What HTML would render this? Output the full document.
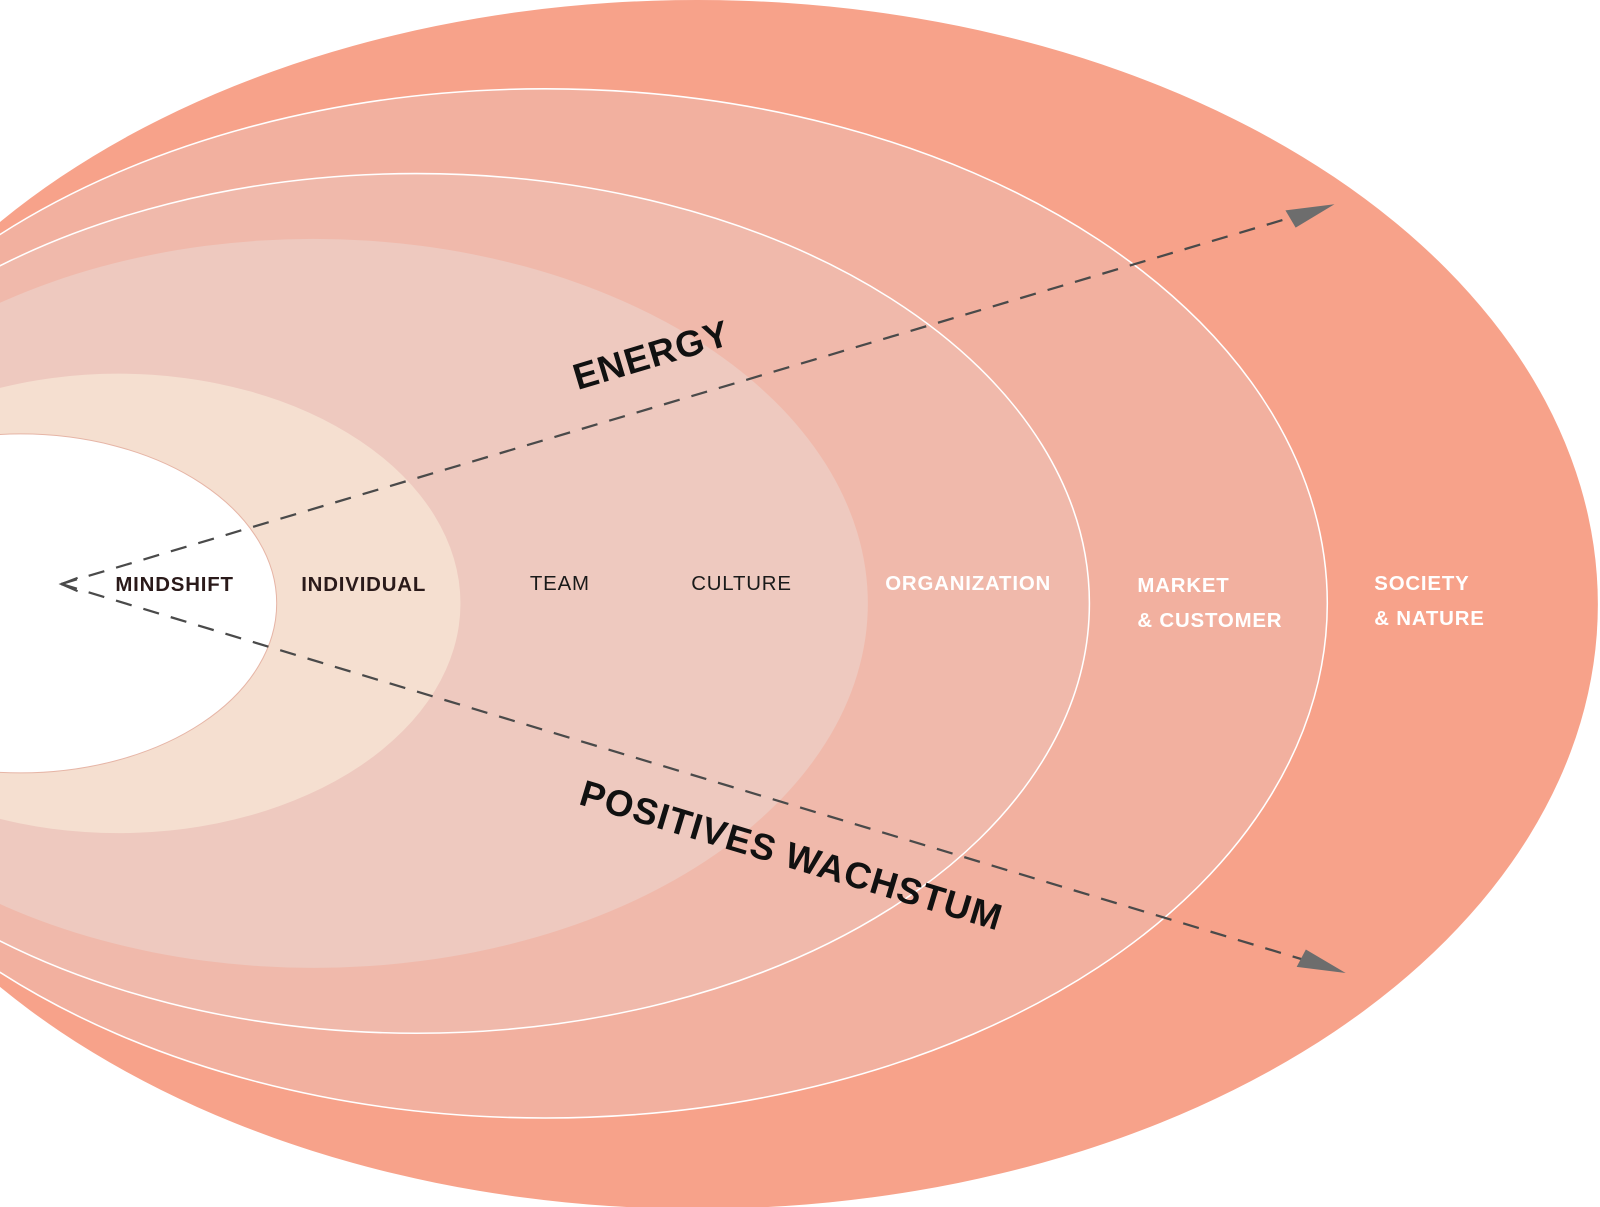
<!DOCTYPE html>
<html><head><meta charset="utf-8"><style>
html,body{margin:0;padding:0;background:#fff;}
svg{display:block}
text{font-family:"Liberation Sans",sans-serif;}
</style></head><body>
<svg width="1600" height="1207" viewBox="0 0 1600 1207" xmlns="http://www.w3.org/2000/svg">
<rect width="1600" height="1207" fill="#fff"/>
<g transform="scale(1.021)">
<ellipse cx="683" cy="592" rx="882" ry="592" fill="#f7a28a"/>
<ellipse cx="534" cy="591" rx="766" ry="504" fill="#f2b09f" stroke="#fff" stroke-width="1.5"/>
<ellipse cx="408" cy="591" rx="659" ry="421" fill="#f0b9ab" stroke="#fff" stroke-width="1.5"/>
<ellipse cx="307" cy="591" rx="543" ry="357" fill="#eec9bf"/>
<ellipse cx="116" cy="591" rx="335" ry="225" fill="#f5dfd0"/>
<ellipse cx="20" cy="591" rx="251" ry="166" fill="#fff" stroke="#e6b5a6" stroke-width="1"/>
<g stroke="#4a4a4a" stroke-width="2.2" stroke-dasharray="16,12" fill="none">
<line x1="60" y1="572" x2="1268" y2="212"/>
<line x1="60" y1="572" x2="1280" y2="941"/>
</g>
<polyline points="76,566 60,572 76,579" fill="none" stroke="#4a4a4a" stroke-width="2"/>
<polygon points="1307,200 1259,206 1269,223" fill="#6d6d6d"/>
<polygon points="1318,953 1270,947 1279,930" fill="#6d6d6d"/>
<g font-size="20" font-weight="bold" letter-spacing="0.8">
<text x="113" y="579" fill="#2a1a1a">MINDSHIFT</text>
<text x="295" y="579" fill="#2a1a1a">INDIVIDUAL</text>
<text x="519" y="578" fill="#1a1a1a" font-weight="normal">TEAM</text>
<text x="677" y="578" fill="#1a1a1a" font-weight="normal">CULTURE</text>
<text x="867" y="578" fill="#fff">ORGANIZATION</text>
<text x="1114" y="580" fill="#fff">MARKET</text>
<text x="1114" y="614" fill="#fff">&amp; CUSTOMER</text>
<text x="1346" y="578" fill="#fff">SOCIETY</text>
<text x="1346" y="612" fill="#fff">&amp; NATURE</text>
</g>
<text x="638" y="360" font-size="36" font-weight="bold" fill="#111" text-anchor="middle" letter-spacing="1" transform="rotate(-16.6 638 348)">ENERGY</text>
<text x="775" y="850" font-size="36" font-weight="bold" fill="#111" text-anchor="middle" letter-spacing="1" transform="rotate(16.8 775 838)">POSITIVES WACHSTUM</text>
</g>
</svg>
</body></html>
